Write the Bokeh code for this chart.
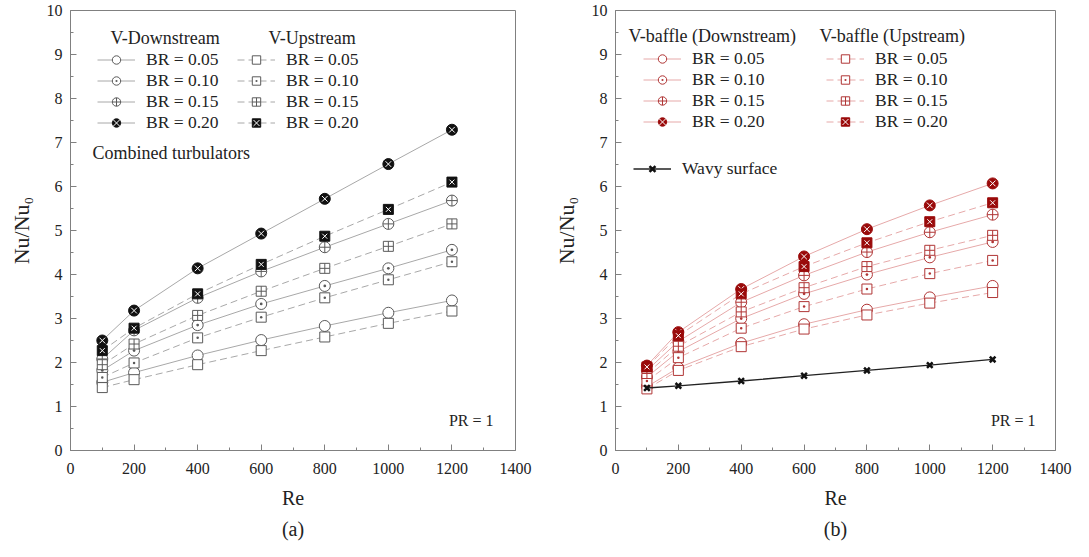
from bokeh.plotting import figure
from bokeh.layouts import row
from bokeh.models import Legend, LegendItem, Label, Title, FixedTicker, Range1d
from bokeh.embed import file_html
from bokeh.resources import INLINE

FONT = "Liberation Serif"

# ---------------- data ----------------
re_vals = [100, 200, 400, 600, 800, 1000, 1200]
br_labels = ["BR = 0.05", "BR = 0.10", "BR = 0.15", "BR = 0.20"]

# (a) combined turbulators
a_down_005 = [1.55, 1.77, 2.16, 2.51, 2.83, 3.13, 3.41]
a_up_005 = [1.43, 1.61, 1.95, 2.27, 2.58, 2.89, 3.17]
a_down_010 = [1.82, 2.27, 2.85, 3.33, 3.74, 4.14, 4.56]
a_up_010 = [1.66, 1.99, 2.56, 3.03, 3.47, 3.88, 4.29]
a_down_015 = [2.08, 2.73, 3.47, 4.07, 4.62, 5.15, 5.68]
a_up_015 = [1.95, 2.42, 3.07, 3.62, 4.14, 4.64, 5.15]
a_down_020 = [2.50, 3.18, 4.14, 4.93, 5.72, 6.51, 7.29]
a_up_020 = [2.27, 2.78, 3.56, 4.23, 4.87, 5.48, 6.10]

# (b) V-baffle alone and wavy surface
b_down_005 = [1.45, 1.88, 2.44, 2.87, 3.20, 3.48, 3.74]
b_up_005 = [1.40, 1.82, 2.36, 2.76, 3.08, 3.35, 3.59]
b_down_010 = [1.67, 2.25, 3.00, 3.56, 4.00, 4.39, 4.74]
b_up_010 = [1.58, 2.11, 2.78, 3.27, 3.67, 4.02, 4.32]
b_down_015 = [1.82, 2.48, 3.37, 3.98, 4.51, 4.96, 5.36]
b_up_015 = [1.75, 2.37, 3.15, 3.70, 4.18, 4.55, 4.89]
b_down_020 = [1.93, 2.69, 3.67, 4.41, 5.03, 5.57, 6.07]
b_up_020 = [1.90, 2.61, 3.56, 4.18, 4.72, 5.20, 5.63]
wavy = [1.42, 1.47, 1.58, 1.70, 1.82, 1.94, 2.07]

x_ticks = [0, 200, 400, 600, 800, 1000, 1200, 1400]
x_minor = [100, 300, 500, 700, 900, 1100, 1300]
y_ticks = [0, 1, 2, 3, 4, 5, 6, 7, 8, 9, 10]
y_minor = [0.5, 1.5, 2.5, 3.5, 4.5, 5.5, 6.5, 7.5, 8.5, 9.5]

FH = 440


def make_fig(sub, bl, br, fw):
    p = figure(frame_width=fw, frame_height=FH, x_range=Range1d(0, 1400), y_range=Range1d(0, 10),
               output_backend="svg", toolbar_location=None,
               min_border_left=bl, min_border_right=br, min_border_top=10, min_border_bottom=10)
    p.background_fill_color = "white"
    p.border_fill_color = "white"
    p.outline_line_color = "#808080"
    p.outline_line_width = 1
    p.grid.visible = False
    p.xaxis.ticker = FixedTicker(ticks=x_ticks, minor_ticks=x_minor)
    p.yaxis.ticker = FixedTicker(ticks=y_ticks, minor_ticks=y_minor)
    for ax in (p.xaxis[0], p.yaxis[0]):
        ax.axis_line_color = "#808080"
        ax.major_tick_line_color = "#808080"
        ax.minor_tick_line_color = "#808080"
        ax.major_tick_in = 6
        ax.major_tick_out = 0
        ax.minor_tick_in = 3
        ax.minor_tick_out = 0
        ax.major_label_text_font = FONT
        ax.major_label_text_font_size = "16px"
        ax.major_label_text_color = "#222222"
        ax.axis_label_text_font = FONT
        ax.axis_label_text_font_style = "normal"
        ax.axis_label_text_color = "#222222"
    p.xaxis.axis_label_text_font_size = "20px"
    p.yaxis.axis_label_text_font_size = "22px"
    p.xaxis.axis_label = "Re"
    p.yaxis.axis_label = "Nu/Nu\u2080"
    p.xaxis.major_label_standoff = 12
    p.yaxis.major_label_standoff = 8
    p.xaxis.axis_label_standoff = 10
    p.yaxis.axis_label_standoff = 10
    t = Title(text=sub, align="center", text_font=FONT, text_font_size="20px",
              text_font_style="normal", text_color="#222222", standoff=9)
    p.add_layout(t, "below")
    return p


def add_series(p, y, shape, line_col, mk_col, fill_col, dashed):
    rs = []
    rs.append(p.line(re_vals, y, line_color=line_col, line_width=1,
                     line_dash="7 4" if dashed else "solid"))
    base = "circle" if shape.startswith("c") else "square"
    size = 11 if base == "circle" else 10
    if shape.endswith("bow"):
        rs.append(p.scatter(re_vals, y, marker=base, size=size, fill_color=fill_col,
                            line_color=fill_col, line_width=1))
        rs.append(p.scatter(re_vals, y, marker="x", size=size - 3, line_color="white",
                            line_width=1.0))
    else:
        rs.append(p.scatter(re_vals, y, marker=shape, size=size, fill_color="white",
                            line_color=mk_col, line_width=1))
    return rs


def add_label(p, x, y, text, size="18px", align="left"):
    p.add_layout(Label(x=x, y=y, x_units="screen", y_units="screen", text=text,
                       text_font=FONT, text_font_size=size, text_baseline="middle",
                       text_align=align, text_color="#222222"))


def make_legend(items, x, y):
    return Legend(items=items, location=(x, y), orientation="vertical",
                  background_fill_alpha=0, border_line_alpha=0, padding=0, margin=0,
                  spacing=0, glyph_width=38, glyph_height=21, label_height=21,
                  label_standoff=11, label_text_font=FONT, label_text_font_size="17.5px",
                  label_text_color="#222222")


down_shapes = ["circle", "circle_dot", "circle_cross", "cbow"]
up_shapes = ["square", "square_dot", "square_cross", "sbow"]

# ---------------- panel (a) ----------------
pa = make_fig("(a)", 70, 22, 445)
a_down = [a_down_005, a_down_010, a_down_015, a_down_020]
a_up = [a_up_005, a_up_010, a_up_015, a_up_020]
items_d, items_u = [], []
for i in range(4):
    mk = "#111111" if i == 3 else "#5a5a5a"
    rd = add_series(pa, a_down[i], down_shapes[i], "#a8a8a8", mk, "#111111", False)
    ru = add_series(pa, a_up[i], up_shapes[i], "#a8a8a8", mk, "#111111", True)
    items_d.append(LegendItem(label=br_labels[i], renderers=rd))
    items_u.append(LegendItem(label=br_labels[i], renderers=ru))
pa.add_layout(make_legend(items_d, 27, 317))
pa.add_layout(make_legend(items_u, 167, 317))
add_label(pa, 40, 413, "V-Downstream")
add_label(pa, 198, 413, "V-Upstream")
add_label(pa, 22, 298, "Combined turbulators")
add_label(pa, 423, 30, "PR = 1", "16px", "right")

# ---------------- panel (b) ----------------
pb = make_fig("(b)", 78, 18, 440)
b_down = [b_down_005, b_down_010, b_down_015, b_down_020]
b_up = [b_up_005, b_up_010, b_up_015, b_up_020]
items_d, items_u = [], []
for i in range(4):
    rd = add_series(pb, b_down[i], down_shapes[i], "#e6a9a9", "#b03535", "#9a0a0a", False)
    ru = add_series(pb, b_up[i], up_shapes[i], "#e6a9a9", "#b03535", "#9a0a0a", True)
    items_d.append(LegendItem(label=br_labels[i], renderers=rd))
    items_u.append(LegendItem(label=br_labels[i], renderers=ru))
rw = [pb.line(re_vals, wavy, line_color="#222222", line_width=1.3),
      pb.scatter(re_vals, wavy, marker="x", size=8, line_color="#111111", line_width=2.5)]
pb.add_layout(make_legend(items_d, 28, 318))
pb.add_layout(make_legend(items_u, 211, 318))
pb.add_layout(make_legend([LegendItem(label="Wavy surface", renderers=rw)], 18, 271))
add_label(pb, 13, 415, "V-baffle (Downstream)")
add_label(pb, 204, 415, "V-baffle (Upstream)")
add_label(pb, 420, 30, "PR = 1", "16px", "right")

layout = row(pa, pb, spacing=0)
open("out.html", "w").write(file_html(layout, INLINE))
